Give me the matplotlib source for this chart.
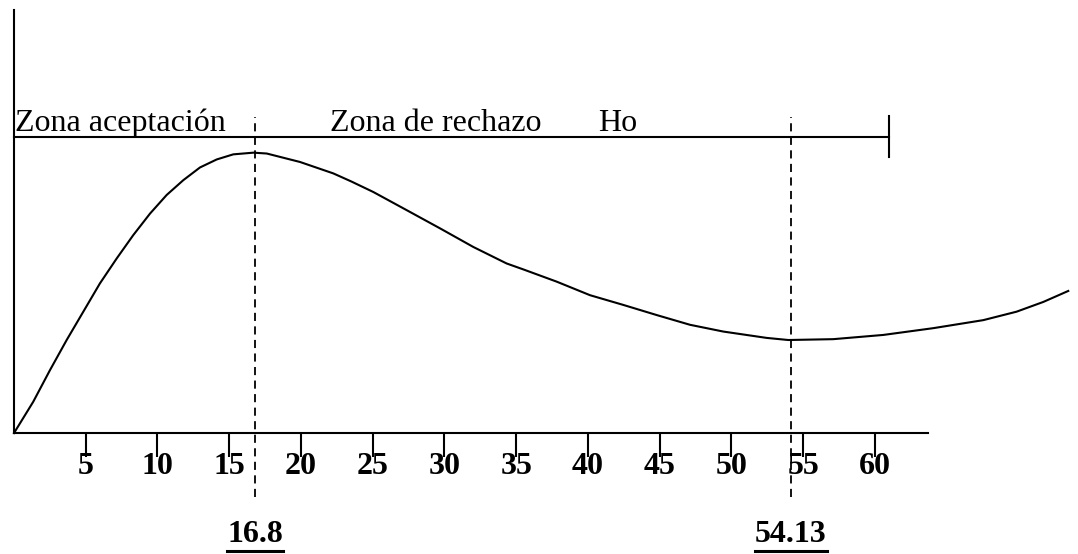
"""
Zonas de aceptacion / rechazo sobre la curva de distribucion.
"""
import matplotlib
matplotlib.use("Agg")
import matplotlib.pyplot as plt
from matplotlib.lines import Line2D

# curve
curve_x = [0, 1.34, 2.51, 3.67, 4.83, 5.99, 7.16, 8.31, 9.48, 10.64, 11.80,
           12.96, 14.13, 15.28, 16.68, 17.61, 19.93, 22.25, 23.5, 25.04, 27.37,
           29.69, 32.01, 34.33, 35.49, 37.82, 40.14, 42.46, 44.79, 47.11, 49.43,
           52.45, 53.96, 57.09, 60.58, 64.06, 67.55, 69.87, 71.73, 73.47]
curve_y = [0, 7.4, 14.9, 22.0, 28.7, 35.4, 41.3, 46.8, 51.9, 56.3, 59.8,
           62.8, 64.7, 65.9, 66.3, 66.1, 64.1, 61.4, 59.5, 57.0, 52.7,
           48.4, 44.0, 40.1, 38.7, 35.8, 32.6, 30.3, 27.9, 25.6, 24.0,
           22.5, 22.0, 22.2, 23.2, 24.8, 26.7, 28.7, 31.0, 33.6]

ticks = [5, 10, 15, 20, 25, 30, 35, 40, 45, 50, 55, 60]
critical = [16.8, 54.13]
critical_labels = ["16.8", "54.13"]
ho_level = 70.0
ho_end = 61.0

SERIF = "Liberation Serif"


def main():
    fig = plt.figure(figsize=(10.78, 5.54), dpi=100)
    ax = fig.add_axes([0, 0, 1, 1])
    ax.set_xlim(-0.976, 74.15)
    ax.set_ylim(-28.6, 102.4)

    # axes drawn through spines
    for side in ["top", "right"]:
        ax.spines[side].set_visible(False)
    ax.spines["left"].set_position(("data", 0))
    ax.spines["bottom"].set_position(("data", 0))
    ax.spines["left"].set_bounds(0, 100)
    ax.spines["bottom"].set_bounds(0, 63.7)
    for side in ["left", "bottom"]:
        ax.spines[side].set_linewidth(1.5)
    ax.set_yticks([])
    ax.set_xticks(ticks)
    ax.set_xticklabels([str(t) for t in ticks], fontfamily=SERIF,
                       fontweight="bold", fontsize=23)
    ax.tick_params(axis="x", direction="out", length=17, width=1.5, pad=-3)
    ax.patch.set_visible(False)

    # curve
    ax.plot(curve_x, curve_y, color="black", lw=1.5, clip_on=False,
            solid_joinstyle="round")

    # Ho line with end bar
    ax.plot([0, ho_end], [ho_level, ho_level], color="black", lw=1.5)
    ax.plot([ho_end, ho_end], [ho_level - 4.8, ho_level + 4.9], color="black", lw=1.5)

    # critical values
    for xc, lab in zip(critical, critical_labels):
        ax.plot([xc, xc], [-15.1, 74.7], color="black", lw=1.3,
                linestyle=(0, (4.5, 3)))
        ax.text(xc, -23.9, lab, ha="center", va="center", fontfamily=SERIF,
                fontweight="bold", fontsize=23)

    ax.text(0.05, 71.4, "Zona aceptación", ha="left", va="baseline",
            fontfamily=SERIF, fontsize=23)
    ax.text(22.0, 71.4, "Zona de rechazo", ha="left", va="baseline",
            fontfamily=SERIF, fontsize=23)
    ax.text(40.7, 71.4, "Ho", ha="left", va="baseline",
            fontfamily=SERIF, fontsize=23)

    # underline the critical labels
    fig.canvas.draw()
    renderer = fig.canvas.get_renderer()
    inv = fig.transFigure.inverted()
    for t in ax.texts:
        if t.get_text() in critical_labels:
            bb = t.get_window_extent(renderer)
            y_ul = ax.transData.transform((0, -27.9))[1]
            (x0, y0), (x1, _) = inv.transform([(bb.x0, y_ul), (bb.x1, y_ul)])
            fig.add_artist(Line2D([x0, x1], [y0, y0], color="black", lw=2.2,
                                  transform=fig.transFigure))

    fig.savefig("out.png", dpi=100)


if __name__ == '__main__':
    main()
